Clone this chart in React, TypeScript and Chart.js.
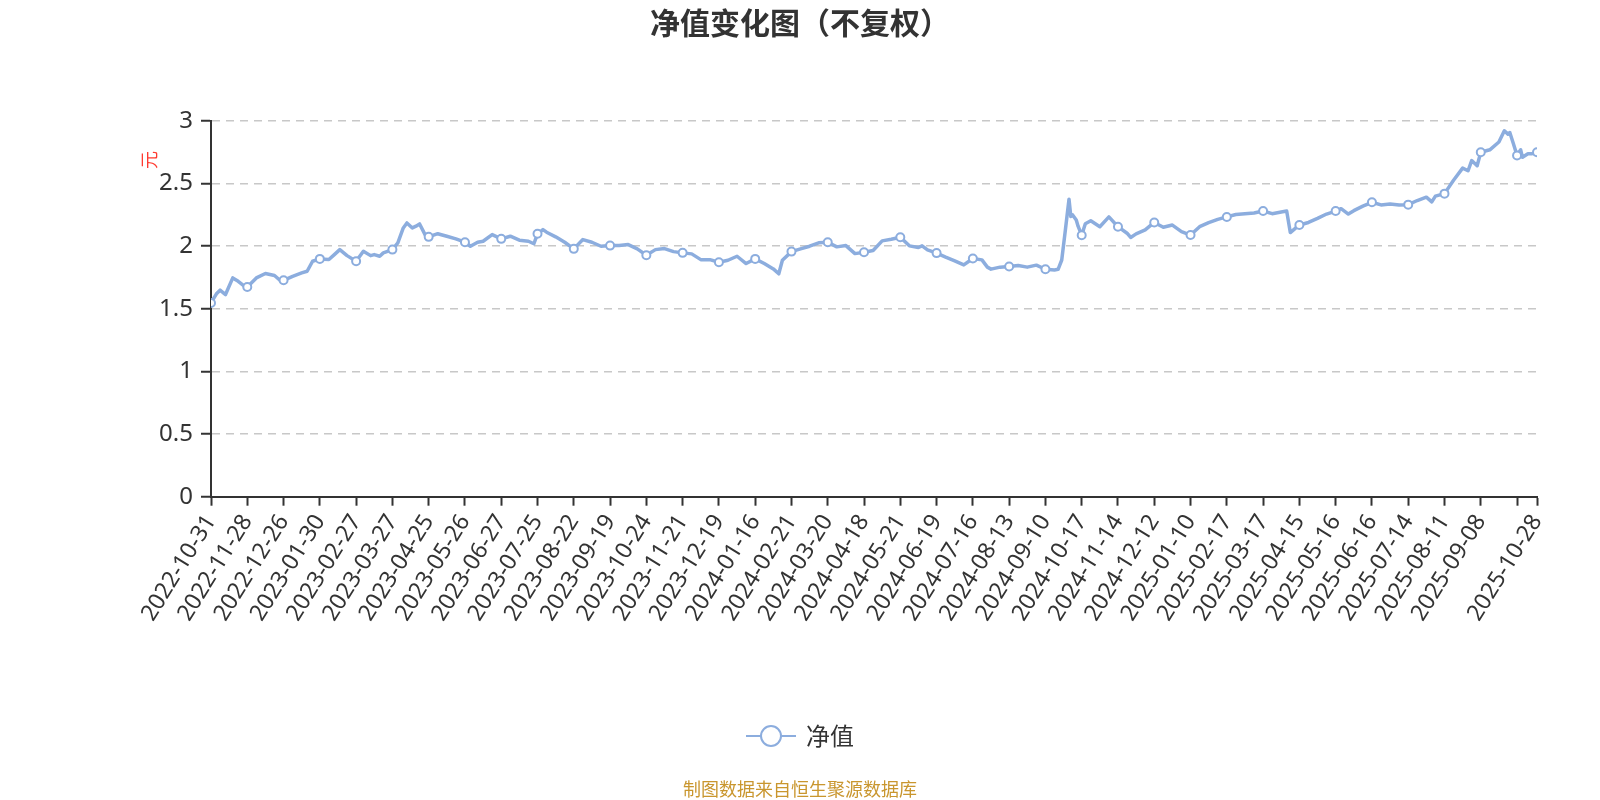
import React, { useEffect, useRef } from "react";
import { Chart, registerables } from "chart.js";

Chart.register(...registerables);

const TITLE = "净值变化图（不复权）";
const SERIES_NAME = "净值";
const Y_UNIT = "元";
const SOURCE = "制图数据来自恒生聚源数据库";

// trading-day positions of the axis ticks and their date labels
const tickIndex = [
  0, 20, 40, 60, 80, 100, 120, 140, 160, 180, 200, 220, 240, 260, 280, 300, 320, 340,
  360, 380, 400, 420, 440, 460, 480, 500, 520, 540, 560, 580, 600, 620, 640, 660, 680,
  700, 720, 731,
];
const tickLabel = [
  "2022-10-31", "2022-11-28", "2022-12-26", "2023-01-30", "2023-02-27", "2023-03-27",
  "2023-04-25", "2023-05-26", "2023-06-27", "2023-07-25", "2023-08-22", "2023-09-19",
  "2023-10-24", "2023-11-21", "2023-12-19", "2024-01-16", "2024-02-21", "2024-03-20",
  "2024-04-18", "2024-05-21", "2024-06-19", "2024-07-16", "2024-08-13", "2024-09-10",
  "2024-10-17", "2024-11-14", "2024-12-12", "2025-01-10", "2025-02-17", "2025-03-17",
  "2025-04-15", "2025-05-16", "2025-06-16", "2025-07-14", "2025-08-11", "2025-09-08",
  "", "2025-10-28",
];

// y-axis tick values and their labels
const yTickValue = [0, 0.5, 1, 1.5, 2, 2.5, 3];
const yTickLabel = ["0", "0.5", "1", "1.5", "2", "2.5", "3"];

const dayIndex = [
  0, 3, 5, 8, 12, 15, 18, 20, 25, 30, 35, 38, 40, 45, 50, 53, 56, 60, 65, 68, 71, 75, 80,
  84, 88, 90, 93, 95, 100, 103, 106, 108, 111, 113, 115, 118, 120, 125, 130, 135, 140,
  143, 147, 150, 155, 160, 165, 170, 175, 178, 180, 183, 185, 190, 195, 200, 205, 210,
  215, 220, 225, 230, 235, 240, 245, 250, 255, 260, 265, 270, 275, 280, 285, 290, 295,
  300, 305, 310, 313, 315, 320, 325, 330, 335, 340, 345, 350, 355, 360, 365, 370, 375,
  380, 385, 390, 392, 395, 400, 405, 410, 415, 420, 425, 428, 430, 435, 440, 445, 450,
  455, 460, 465, 467, 469, 471, 473, 474, 475, 477, 478, 480, 482, 485, 490, 495, 500,
  505, 507, 510, 515, 520, 525, 530, 535, 540, 545, 550, 555, 560, 565, 570, 575, 580,
  585, 590, 593, 595, 600, 605, 610, 615, 620, 623, 627, 630, 635, 640, 645, 650, 655,
  660, 665, 670, 673, 675, 680, 685, 690, 693, 695, 698, 700, 705, 710, 713, 715, 716,
  718, 720, 722, 723, 726, 728, 731,
];
const navValue = [
  1.547, 1.62, 1.649, 1.614, 1.747, 1.72, 1.686, 1.675, 1.747, 1.782, 1.766, 1.728, 1.728,
  1.76, 1.787, 1.8, 1.88, 1.899, 1.894, 1.933, 1.973, 1.925, 1.88, 1.96, 1.925, 1.933,
  1.92, 1.947, 1.973, 2.027, 2.146, 2.186, 2.146, 2.16, 2.178, 2.093, 2.075, 2.1, 2.08,
  2.059, 2.032, 2.0, 2.032, 2.04, 2.093, 2.059, 2.08, 2.048, 2.04, 2.02, 2.099, 2.133,
  2.112, 2.075, 2.032, 1.979, 2.053, 2.032, 2.0, 2.005, 2.005, 2.013, 1.979, 1.928,
  1.973, 1.981, 1.957, 1.947, 1.939, 1.893, 1.893, 1.872, 1.888, 1.92, 1.862, 1.899,
  1.862, 1.819, 1.78, 1.888, 1.957, 1.979, 2.0, 2.027, 2.032, 1.995, 2.005, 1.941, 1.952,
  1.966, 2.043, 2.056, 2.072, 2.003, 1.99, 2.003, 1.971, 1.945, 1.913, 1.883, 1.851,
  1.902, 1.891, 1.833, 1.817, 1.833, 1.838, 1.846, 1.833, 1.849, 1.816, 1.811, 1.816,
  1.89, 2.13, 2.375, 2.237, 2.25, 2.21, 2.16, 2.088, 2.18, 2.203, 2.156, 2.234, 2.156,
  2.104, 2.07, 2.099, 2.13, 2.19, 2.151, 2.169, 2.117, 2.089, 2.156, 2.188, 2.214, 2.234,
  2.253, 2.26, 2.266, 2.281, 2.26, 2.273, 2.281, 2.109, 2.17, 2.19, 2.222, 2.257, 2.281,
  2.3, 2.257, 2.284, 2.32, 2.351, 2.33, 2.338, 2.33, 2.332, 2.365, 2.392, 2.354, 2.4,
  2.42, 2.527, 2.624, 2.603, 2.684, 2.643, 2.75, 2.77, 2.832, 2.922, 2.895, 2.908, 2.819,
  2.724, 2.77, 2.71, 2.738, 2.738, 2.751,
];

const LINE_COLOR = "#8CADDE";
const TEXT_COLOR = "#333333";
const LATIN_FONT = '"Noto Sans", "Noto Sans CJK SC", sans-serif';
const CJK_FONT = '"Noto Sans CJK SC", "Noto Sans", sans-serif';

const decorations = {
  id: "decorations",
  afterDraw(chart: any) {
    const { ctx, chartArea } = chart;
    const w = chart.width;
    ctx.save();
    // title
    ctx.font = `bold 30px ${CJK_FONT}`;
    ctx.fillStyle = TEXT_COLOR;
    ctx.textAlign = "center";
    ctx.textBaseline = "middle";
    ctx.fillText(TITLE, w / 2, 23);

    // y unit
    ctx.save();
    ctx.translate(chartArea.left - 62, chartArea.top + 39);
    ctx.rotate(-Math.PI / 2);
    ctx.font = `18px ${CJK_FONT}`;
    ctx.fillStyle = "#FF3B30";
    ctx.textAlign = "center";
    ctx.textBaseline = "middle";
    ctx.fillText(Y_UNIT, 0, 0);
    ctx.restore();

    // legend
    const label = chart.data.datasets[0].label as string;
    ctx.font = `24px ${CJK_FONT}`;
    const tw = ctx.measureText(label).width;
    const iconW = 50;
    const gap = 10;
    const total = iconW + gap + tw;
    const sx = (w - total) / 2;
    const ly = 736;
    ctx.strokeStyle = LINE_COLOR;
    ctx.lineWidth = 2;
    ctx.beginPath();
    ctx.moveTo(sx, ly);
    ctx.lineTo(sx + iconW, ly);
    ctx.stroke();
    ctx.beginPath();
    ctx.arc(sx + iconW / 2, ly, 10, 0, Math.PI * 2);
    ctx.fillStyle = "#ffffff";
    ctx.fill();
    ctx.stroke();
    ctx.fillStyle = TEXT_COLOR;
    ctx.textAlign = "left";
    ctx.textBaseline = "middle";
    ctx.fillText(label, sx + iconW + gap, ly);

    // source
    ctx.font = `18px ${CJK_FONT}`;
    ctx.fillStyle = "#C9962E";
    ctx.textAlign = "center";
    ctx.fillText(SOURCE, w / 2, 789);
    ctx.restore();
  },
};

export default function App() {
  const ref = useRef<HTMLCanvasElement | null>(null);

  useEffect(() => {
    document.body.style.margin = "0";
    const canvas = ref.current;
    if (!canvas) return;
    const points = dayIndex.map((d, i) => ({ x: d, y: navValue[i] }));
    const chart = new Chart(canvas, {
      type: "line",
      data: {
        datasets: [
          {
            label: SERIES_NAME,
            data: points,
            borderColor: LINE_COLOR,
            borderWidth: 3.5,
            tension: 0,
            borderJoinStyle: "round",
            pointRadius: (c: any) => (tickIndex.includes(c.raw?.x) ? 4 : 0),
            pointBackgroundColor: "#ffffff",
            pointBorderColor: LINE_COLOR,
            pointBorderWidth: 2,
            fill: false,
          },
        ],
      },
      options: {
        responsive: false,
        animation: false,
        devicePixelRatio: 1,
        layout: { padding: { top: 121, right: 63, bottom: 143.3, left: 0 } },
        plugins: {
          legend: { display: false },
          title: { display: false },
          tooltip: { enabled: false },
        },
        scales: {
          x: {
            type: "linear",
            min: 0,
            max: 731,
            afterBuildTicks: (s: any) => {
              s.ticks = tickIndex.map((v) => ({ value: v }));
            },
            afterFit: (s: any) => {
              s.height = 160;
            },
            ticks: {
              autoSkip: false,
              minRotation: 58,
              maxRotation: 58,
              padding: 4,
              color: TEXT_COLOR,
              font: { family: LATIN_FONT, size: 23 },
              callback: (v: any) => {
                const k = tickIndex.indexOf(Number(v));
                return k >= 0 ? tickLabel[k] : "";
              },
            },
            grid: {
              display: true,
              drawOnChartArea: false,
              drawTicks: true,
              tickLength: 9,
              tickColor: TEXT_COLOR,
              tickWidth: 2,
            },
            border: { display: true, color: TEXT_COLOR, width: 2 },
          },
          y: {
            type: "linear",
            min: 0,
            max: 3,
            afterBuildTicks: (s: any) => {
              s.ticks = yTickValue.map((v) => ({ value: v }));
            },
            afterFit: (s: any) => {
              s.width = 211;
            },
            ticks: {
              padding: 8,
              color: TEXT_COLOR,
              font: { family: LATIN_FONT, size: 24 },
              callback: (v: any) => {
                const k = yTickValue.indexOf(Number(v));
                return k >= 0 ? yTickLabel[k] : "";
              },
            },
            grid: {
              color: (c: any) => (c.tick && c.tick.value === 0 ? "rgba(0,0,0,0)" : "#C8C8C8"),
              lineWidth: 1.5,
              drawTicks: true,
              tickLength: 10,
              tickColor: TEXT_COLOR,
              tickWidth: 2,
            },
            border: { display: true, color: TEXT_COLOR, width: 2, dash: [8, 6] },
          },
        },
      },
      plugins: [decorations],
    } as any);
    return () => chart.destroy();
  }, []);

  return (
    <div style={{ width: 1600, height: 800, background: "#ffffff" }}>
      <canvas ref={ref} width={1600} height={800} style={{ display: "block" }} />
    </div>
  );
}
